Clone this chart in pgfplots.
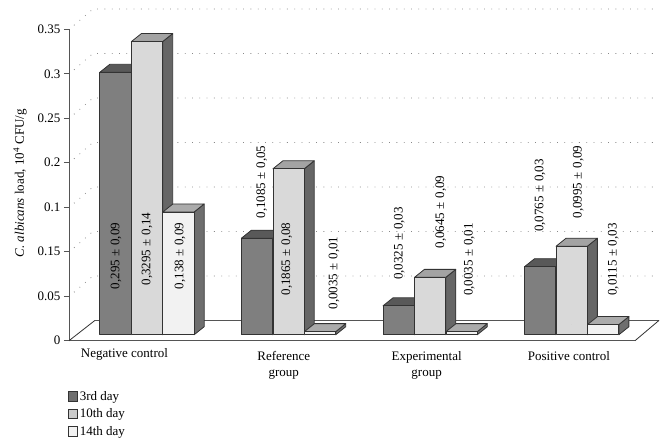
\documentclass[border=0pt]{standalone}
\usepackage{pgfplots}
\usepackage{fontspec}
\pgfplotsset{compat=1.18}
\setmainfont{Liberation Serif}

\definecolor{edge}{HTML}{333333}
\definecolor{axisgray}{HTML}{555555}
\definecolor{dotgray}{HTML}{888888}
\definecolor{frontA}{HTML}{7F7F7F}
\definecolor{topA}{HTML}{595959}
\definecolor{sideA}{HTML}{666666}
\definecolor{frontB}{HTML}{D9D9D9}
\definecolor{topB}{HTML}{A3A3A3}
\definecolor{sideB}{HTML}{666666}
\definecolor{frontC}{HTML}{F2F2F2}
\definecolor{topC}{HTML}{ABABAB}
\definecolor{sideC}{HTML}{6E6E6E}

\protected\def\pmv{\hspace{3.5pt}±\hspace{3.5pt}}
\newcommand{\chartfont}{\fontsize{13}{15.5}\selectfont}

% one whole bar, origin is the middle of the front top edge
% markers come after plain plots, so the front has to be drawn here as well
\newcommand{\drawbar}[4]{%
  \pgfmathsetmacro{\barh}{\barv*889.7}%
  \filldraw[fill=#4,draw=edge,line width=0.8pt,line join=round]
    (#1+15.65pt,0pt) -- ++(10pt,8pt) -- ++(0pt,-\barh pt) -- ++(-10pt,-8pt) -- cycle;
  \filldraw[fill=#3,draw=edge,line width=0.8pt,line join=round]
    (#1-15.65pt,0pt) -- ++(31.3pt,0pt) -- ++(10pt,8pt) -- ++(-31.3pt,0pt) -- cycle;
  \filldraw[fill=#2,draw=edge,line width=0.8pt,line join=round]
    (#1-15.65pt,0pt) -- ++(31.3pt,0pt) -- ++(0pt,-\barh pt) -- ++(-31.3pt,0pt) -- cycle;
}

\pgfplotstableread{
x v
0 0.295
1 0.1085
2 0.0325
3 0.0765
}\thirdday
\pgfplotstableread{
x v
0 0.3295
1 0.1865
2 0.0645
3 0.0995
}\tenthday
\pgfplotstableread{
x v
0 0.138
1 0.0035
2 0.0035
3 0.0115
}\fourteenthday

\pgfplotsset{
  bars3d/.style={
    scatter, only marks, mark=*, mark size=0pt,
    visualization depends on={rawy \as \barv},
    scatter/@post marker code/.code={},
  },
  legbox/.style={
    legend image code/.code={
      \draw[##1,draw=edge,line width=0.7pt] (0pt,-4.6pt) rectangle (9pt,4.6pt);
    },
  },
}

\begin{document}
\begin{tikzpicture}[x=1pt,y=1pt]
\useasboundingbox (0,0) rectangle (668,445);

% axis, wall dots, floor, labels
\begin{axis}[
  at={(69pt,104.3pt)}, anchor=south west,
  scale only axis, width=566pt, height=311.4pt,
  xmin=-0.551, xmax=3.447, ymin=0, ymax=0.35,
  clip=false,
  axis y line*=left, axis x line*=bottom,
  axis line style={-,draw=axisgray,line width=0.9pt},
  xtick={-0.159,0.966,1.975,2.98},
  xticklabels={\raisebox{3pt}[9pt][0pt]{Negative control},{Reference\\group},{Experimental\\group},Positive control},
  x tick style={draw=none},
  xticklabel style={align=center,font=\chartfont,yshift=-2.5pt},
  ytick={0,0.05,0.1,0.15,0.2,0.25,0.3,0.35},
  yticklabels={0,0.05,0.15,0.1,0.2,0.25,0.3,0.35},
  yticklabel style={font=\chartfont},
  y tick style={draw=axisgray,line width=0.8pt},
  tick align=outside, major tick length=5pt,
  every axis y label/.style={at={(axis description cs:-0.0866,0.506)},rotate=90,anchor=center},
  ylabel={\chartfont\textit{C. albicans} load, 10\textsuperscript{4} CFU/g},
  legend style={at={(axis description cs:-0.002,-0.155)},anchor=north west,
    draw=none,fill=none,font=\chartfont,inner sep=0pt,row sep=2.9pt,
    /tikz/every even column/.style={column sep=4.5pt}},
  legend cell align=left,
]
\pgfplotsinvokeforeach{0.05,0.1,0.15,0.2,0.25,0.3,0.35}{
  \draw[dotgray,line width=0.8pt,dash pattern=on 0.8pt off 6.5pt]
    (axis cs:-0.551,#1) ++(5pt,4pt) -- ++(19pt,16.3pt) -- ++(562pt,0pt);
}
\addplot[draw=edge,line width=0.8pt,forget plot] coordinates {(-0.551,0) (-0.367,0.0229)};
\addplot[draw=axisgray,line width=0.9pt,forget plot] coordinates {(-0.367,0.0229) (3.617,0.0229)};
\addplot[draw=edge,line width=0.8pt,forget plot] coordinates {(3.617,0.0229) (3.447,0)};

\addlegendimage{legbox,fill=sideC}
\addlegendentry{3rd day}
\addlegendimage{legbox,fill=frontB!94!black}
\addlegendentry{10th day}
\addlegendimage{legbox,fill=frontC}
\addlegendentry{14th day}
\end{axis}

% bars, floor is 6 px above the zero of the axis
\begin{axis}[
  at={(69pt,104.3pt)}, anchor=south west,
  scale only axis, width=566pt, height=311.4pt,
  xmin=-0.551, xmax=3.447, ymin=-0.0067, ymax=0.3433,
  clip=false, hide axis,
]
\addplot[bars3d,scatter/@pre marker code/.code={\drawbar{-31.5pt}{frontA}{topA}{sideA}}] table[x=x,y=v] {\thirdday};
\addplot[bars3d,scatter/@pre marker code/.code={\drawbar{0pt}{frontB}{topB}{sideB}}] table[x=x,y=v] {\tenthday};
\addplot[bars3d,scatter/@pre marker code/.code={\drawbar{31.5pt}{frontC}{topC}{sideC}}] table[x=x,y=v] {\fourteenthday};
\end{axis}

% value labels, on top of the bars
\begin{axis}[
  at={(69pt,104.3pt)}, anchor=south west,
  scale only axis, width=566pt, height=311.4pt,
  xmin=-0.551, xmax=3.447, ymin=0, ymax=0.35,
  clip=false, hide axis,
]
\addplot[
  only marks, mark=*, mark size=0pt,
  nodes near coords={\lab},
  every node near coord/.style={rotate=90,anchor=center,inner sep=0pt,font=\chartfont,text=black},
  visualization depends on={value \thisrow{label} \as \lab},
] table {
x y label
-0.219 0.0952 {0,295\pmv{}0,09}
0 0.1031 {0,3295\pmv{}0,14}
0.233 0.0952 {0,138\pmv{}0,09}
0.810 0.1784 {0,1085\pmv{}0,05}
0.987 0.0918 {0,1865\pmv{}0,08}
1.321 0.0761 {0,0035\pmv{}0,01}
1.782 0.1092 {0,0325\pmv{}0,03}
2.075 0.1447 {0,0645\pmv{}0,09}
2.277 0.0913 {0,0035\pmv{}0,01}
2.776 0.1632 {0,0765\pmv{}0,03}
3.047 0.1784 {0,0995\pmv{}0,09}
3.294 0.0913 {0,0115\pmv{}0,03}
};
\end{axis}
\end{tikzpicture}
\end{document}
